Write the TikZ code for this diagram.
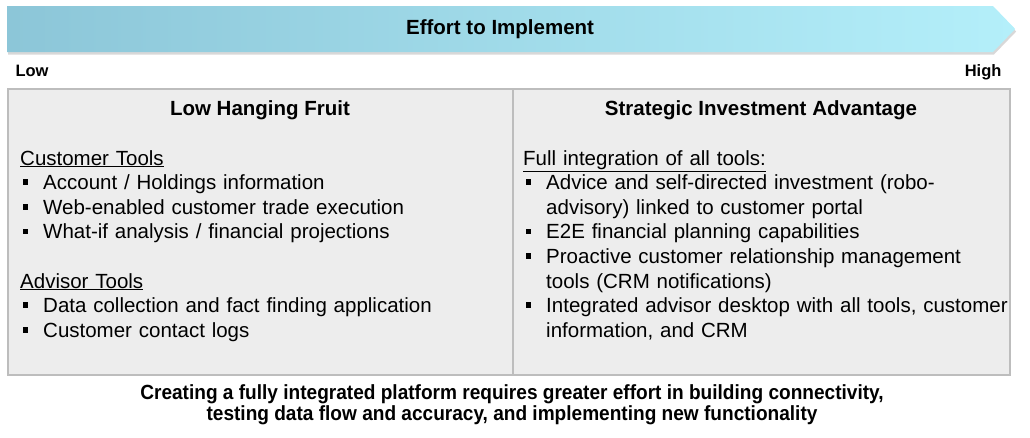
\documentclass[tikz,border=0pt]{standalone}
\usepackage{fontspec}
\setmainfont{Liberation Sans}
\newfontfamily\notefont[FakeStretch=0.93]{Liberation Sans}
\usepackage{tikz}
\usetikzlibrary{positioning, shapes.symbols, shadows}
\definecolor{bannerL}{HTML}{8CC6D8}
\definecolor{bannerR}{HTML}{B4EFFA}
\definecolor{panelFill}{HTML}{EDEDED}
\definecolor{panelLine}{HTML}{BDBDBD}
\newcommand{\sqbullet}{\rule[0.22em]{0.28em}{0.28em}}
\newcommand{\listitem}[1]{\par\noindent\hyphenpenalty=10000
  \hangindent=23pt\hangafter=1%
  \makebox[23pt][l]{\hspace{2.5pt}\sqbullet}#1\par}
\tikzset{
  banner/.style={
    signal, signal to=east, signal pointer angle=92,
    left color=bannerL, right color=bannerR, draw=none,
    minimum width=1008pt, minimum height=46pt, inner sep=0pt,
    font=\fontsize{20.5}{24}\selectfont\bfseries,
    drop shadow={shadow xshift=1pt, shadow yshift=-2.5pt, fill=black!30}
  },
  panel/.style={
    draw=panelLine, fill=panelFill, line width=1.5pt,
    anchor=north west, inner sep=0pt, minimum height=286pt
  },
  colhead/.style={font=\fontsize{20.5}{24}\selectfont\bfseries, anchor=base},
  colbody/.style={
    anchor=north west, inner sep=0pt, text width=490pt, align=left,
    font=\fontsize{20.5}{24.6}\selectfont
  },
  endlabel/.style={font=\fontsize{16.5}{20}\selectfont\bfseries},
  note/.style={
    anchor=north, inner sep=0pt, align=center,
    font=\notefont\fontsize{20.5}{21.5}\selectfont\bfseries
  }
}

\begin{document}
\begin{tikzpicture}[x=1pt, y=-1pt]
  \useasboundingbox (0,0) rectangle (1030,437);

  \node[banner, anchor=west] (effort) at (7,29) {Effort to Implement};
  \node[endlabel, anchor=base west] (low) at (12,76) {Low};
  \node[endlabel, anchor=base east] (high) at (1005,76) {High};

  \node[panel, minimum width=505pt] (lowpanel) at (7,88) {};
  \node[panel, minimum width=497pt] (strpanel) at (512,88) {};

  \node[colhead] (lowhead) at (260,115) {Low Hanging Fruit};
  \node[colhead] (strhead) at (761,115) {Strategic Investment Advantage};

  \node[colbody] (lowlist) at (20,150) {%
    \underline{Customer Tools}
    \listitem{Account / Holdings information}
    \listitem{Web-enabled customer trade execution}
    \listitem{What-if analysis / financial projections}
    \mbox{}\par
    \underline{Advisor Tools}
    \listitem{Data collection and fact finding application}
    \listitem{Customer contact logs}};

  \node[colbody] (strlist) at (523,150) {%
    \underline{Full integration of all tools:}
    \listitem{Advice and self-directed investment (robo-\newline advisory) linked to customer portal}
    \listitem{E2E financial planning capabilities}
    \listitem{Proactive customer relationship management\newline tools (CRM notifications)}
    \listitem{Integrated advisor desktop with all tools, customer\newline information, and CRM}};

  \node[note] (summary) at (512,384)
    {Creating a fully integrated platform requires greater effort in building connectivity,\\
     testing data flow and accuracy, and implementing new functionality};
\end{tikzpicture}
\end{document}
